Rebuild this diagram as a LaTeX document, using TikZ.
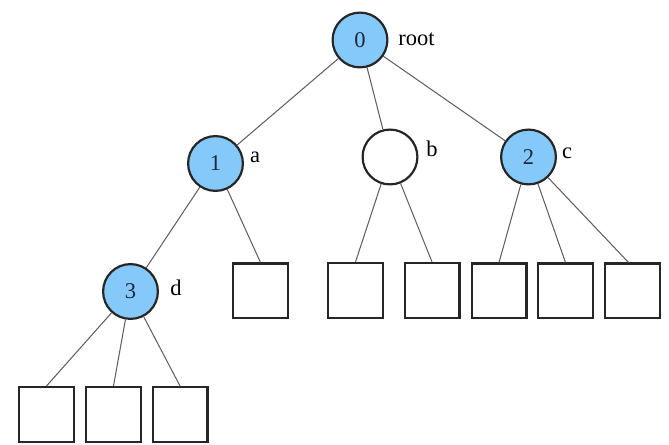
\documentclass[tikz,border=0pt]{standalone}
\usepackage{fontspec}
\setmainfont{Liberation Serif}
\definecolor{keyblue}{RGB}{133,201,250}
\definecolor{edgegray}{RGB}{95,95,95}
\definecolor{keytext}{RGB}{25,40,60}
\tikzset{
  keynode/.style={circle, draw=black!85, line width=0.055cm, fill=keyblue, text=keytext, minimum size=1.37cm, inner sep=0pt},
  emptynode/.style={circle, draw=black!85, line width=0.055cm, fill=white, minimum size=1.37cm, inner sep=0pt},
  leafbox/.style={rectangle, draw=black!85, line width=0.055cm, minimum size=1.37cm, inner sep=0pt},
  namelabel/.style={inner sep=0pt},
  edge/.style={draw=edgegray, line width=0.026cm}
}
\begin{document}
\begin{tikzpicture}
                    \useasboundingbox (0.000000,0.000000) rectangle (16.725000,11.125000);
                    {\fontsize{16}{19}\selectfont

                    % Marking node 0 (root)
                    \node (n0) at (9.000000,10.125000) [keynode] {0};%
                    \node (l0) at (9.950000,10.150000) [namelabel, anchor=west] {root};%

                    % Marking node 1 (a)
                    \node (n1) at (5.387500,7.037500) [keynode] {1};%
                    \node (la) at (6.375000,7.200000) [namelabel] {a};%

                    % Marking node b
                    \node (nb) at (9.750000,7.200000) [emptynode] {};%
                    \node (lb) at (10.800000,7.400000) [namelabel] {b};%

                    % Marking node 2 (c)
                    \node (n2) at (13.212500,7.200000) [keynode] {2};%
                    \node (lc) at (14.175000,7.300000) [namelabel] {c};%

                    % Marking node 3 (d)
                    \node (n3) at (3.262500,3.837500) [keynode] {3};%
                    \node (ld) at (4.400000,3.925000) [namelabel] {d};%

                    % Marking leaves of row 2
                    \node (s1) at (6.512500,3.850000) [leafbox] {};%
                    \node (sb1) at (8.887500,3.862500) [leafbox] {};%
                    \node (sb2) at (10.800000,3.862500) [leafbox] {};%
                    \node (s2a) at (12.475000,3.850000) [leafbox] {};%
                    \node (s2b) at (14.137500,3.850000) [leafbox] {};%
                    \node (s2c) at (15.812500,3.850000) [leafbox] {};%

                    % Marking leaves of row 3
                    \node (s3a) at (1.162500,0.762500) [leafbox] {};%
                    \node (s3b) at (2.837500,0.762500) [leafbox] {};%
                    \node (s3c) at (4.500000,0.762500) [leafbox] {};%

                    % Drawing edges from 0
                    \draw [edge] (n0) -- (n1);%
                    \draw [edge] (n0) -- (nb);%
                    \draw [edge] (n0) -- (n2);%

                    % Drawing edges from 1
                    \draw [edge] (n1) -- (n3);%
                    \draw [edge] (n1) -- (s1.north);%

                    % Drawing edges from b
                    \draw [edge] (nb) -- (sb1.north);%
                    \draw [edge] (nb) -- (sb2.north);%

                    % Drawing edges from 2
                    \draw [edge] (n2) -- (s2a.north);%
                    \draw [edge] (n2) -- (s2b.north);%
                    \draw [edge] (n2) -- ([xshift=-0.1cm]s2c.north);%

                    % Drawing edges from 3
                    \draw [edge] (n3) -- (s3a.north);%
                    \draw [edge] (n3) -- (s3b.north);%
                    \draw [edge] (n3) -- (s3c.north);%
                    }
\end{tikzpicture}
\end{document}
